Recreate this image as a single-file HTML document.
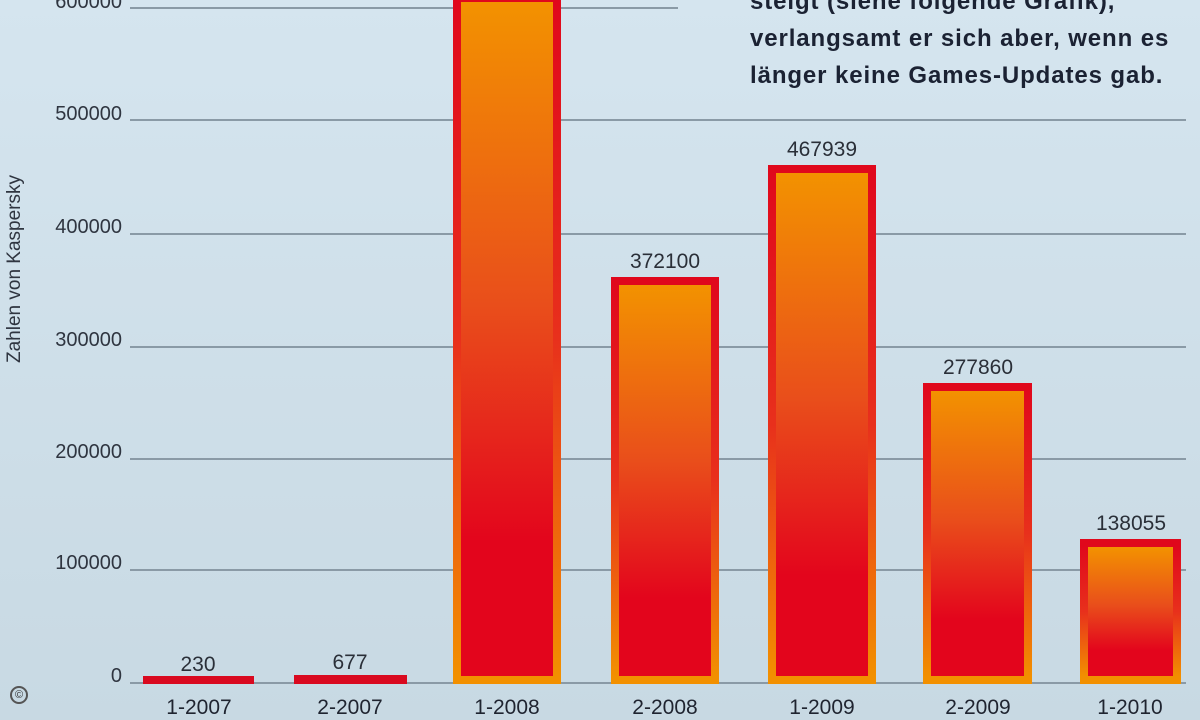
<!DOCTYPE html>
<html><head><meta charset="utf-8"><style>
body{margin:0;width:1200px;height:720px;overflow:hidden;background:linear-gradient(#d5e5ef,#c8d9e3);font-family:"Liberation Sans",sans-serif;color:#2a2f38;position:relative}
.g{position:absolute;left:130px;right:14px;height:2px;background:#8a9aa6}
.yl{position:absolute;right:1078px;font-size:20px;line-height:20px;text-align:right;color:#2f3540}
.bar{position:absolute;box-sizing:border-box;border:8px solid;border-image:linear-gradient(#e0081c,#e8301c 50%,#f29000) 1;background:linear-gradient(#f39200,#e94e1b 45%,#e3051c 80%,#e3051c)}
.v{position:absolute;font-size:21px;text-align:center;width:140px;color:#2a2f38}
.x{position:absolute;top:696px;font-size:21px;text-align:center;width:140px;color:#1f2430}
.txt{position:absolute;left:750px;top:-17px;font-weight:bold;font-size:24px;line-height:37px;color:#1b2233;letter-spacing:0.9px;white-space:nowrap}
</style></head><body>
<div class="g" style="top:7px;right:522px"></div>
<div class="g" style="top:119px"></div>
<div class="g" style="top:233px"></div>
<div class="g" style="top:346px"></div>
<div class="g" style="top:458px"></div>
<div class="g" style="top:569px"></div>
<div class="g" style="top:682px"></div>
<div class="yl" style="top:-8px">600000</div>
<div class="yl" style="top:104px">500000</div>
<div class="yl" style="top:217px">400000</div>
<div class="yl" style="top:330px">300000</div>
<div class="yl" style="top:442px">200000</div>
<div class="yl" style="top:553px">100000</div>
<div class="yl" style="top:666px">0</div>
<div style="position:absolute;left:-85px;top:258px;width:200px;transform:rotate(-90deg);font-size:19px;text-align:center;color:#2f3540">Zahlen von Kaspersky</div>
<div style="position:absolute;left:10px;top:686px;width:18px;height:18px;border-radius:50%;border:2px solid #555;box-sizing:border-box;font-size:11px;text-align:center;line-height:14px;color:#333">©</div>
<div class="txt">steigt (siehe folgende Grafik),<br>verlangsamt er sich aber, wenn es<br>länger keine Games-Updates gab.</div>
<div style="position:absolute;left:143px;top:676px;width:111px;height:8px;background:#d9091f"></div>
<div style="position:absolute;left:294px;top:675px;width:113px;height:9px;background:#d9091f"></div>
<div class="bar" style="left:453px;top:-6px;width:108px;height:690px"></div>
<div class="bar" style="left:611px;top:277px;width:108px;height:407px"></div>
<div class="bar" style="left:768px;top:165px;width:108px;height:519px"></div>
<div class="bar" style="left:923px;top:383px;width:109px;height:301px"></div>
<div class="bar" style="left:1080px;top:539px;width:101px;height:145px"></div>
<div class="v" style="left:128px;top:653px">230</div>
<div class="v" style="left:280px;top:651px">677</div>
<div class="v" style="left:595px;top:250px">372100</div>
<div class="v" style="left:752px;top:138px">467939</div>
<div class="v" style="left:908px;top:356px">277860</div>
<div class="v" style="left:1061px;top:512px">138055</div>
<div class="x" style="left:129px">1-2007</div>
<div class="x" style="left:280px">2-2007</div>
<div class="x" style="left:437px">1-2008</div>
<div class="x" style="left:595px">2-2008</div>
<div class="x" style="left:752px">1-2009</div>
<div class="x" style="left:908px">2-2009</div>
<div class="x" style="left:1060px">1-2010</div>
</body></html>
